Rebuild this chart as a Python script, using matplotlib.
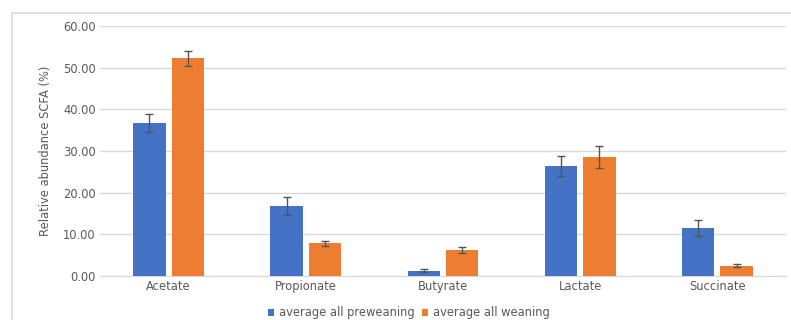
import matplotlib
matplotlib.use("Agg")
import matplotlib.pyplot as plt
from matplotlib.patches import Rectangle
import numpy as np

categories = ["Acetate", "Propionate", "Butyrate", "Lactate", "Succinate"]
preweaning = [36.7, 16.8, 1.3, 26.4, 11.5]
preweaning_err = [2.2, 2.1, 0.4, 2.5, 1.9]
weaning = [52.3, 7.9, 6.2, 28.6, 2.5]
weaning_err = [1.8, 0.6, 0.7, 2.6, 0.4]

blue = "#4472C4"
orange = "#ED7D31"
txt = "#595959"

fig = plt.figure(figsize=(7.91, 3.2), dpi=100)
fig.patches.append(Rectangle((12 / 791, -0.1), 1.0, 1 - 13 / 320 + 0.1,
                             transform=fig.transFigure, fill=False,
                             edgecolor="#D9D9D9", linewidth=1.2))
ax = fig.add_axes([100 / 791, 1 - 276 / 320, 686 / 791, 250 / 320])

x = np.arange(len(categories))
w = 0.235
off = 0.14
ekw = dict(ecolor="#555555", elinewidth=1, capsize=3, capthick=1)
ax.bar(x - off, preweaning, w, yerr=preweaning_err, color=blue,
       label="average all preweaning", error_kw=ekw, zorder=3)
ax.bar(x + off, weaning, w, yerr=weaning_err, color=orange,
       label="average all weaning", error_kw=ekw, zorder=3)

ax.set_xlim(-0.5, len(categories) - 0.5)
ax.set_ylim(0, 60)
ax.set_yticks(np.arange(0, 61, 10))
ax.set_yticklabels([f"{v:.2f}" for v in np.arange(0, 61, 10)])
ax.set_xticks(x)
ax.set_xticklabels(categories)
ax.grid(axis="y", color="#D9D9D9", linewidth=1, zorder=0)
for s in ["top", "right", "left"]:
    ax.spines[s].set_visible(False)
ax.spines["bottom"].set_color("#D9D9D9")
ax.tick_params(axis="both", length=0, colors=txt, labelsize=8.3)
ax.tick_params(axis="y", pad=3)
ax.tick_params(axis="x", pad=3)
ax.set_ylabel("Relative abundance SCFA (%)", color=txt, fontsize=8.3,
              labelpad=8)

ax.legend(loc="lower center", bbox_to_anchor=(0.45, -0.182), ncol=2,
          frameon=False, fontsize=8.3, labelcolor=txt, handlelength=0.55,
          handleheight=0.55, handletextpad=0.4, columnspacing=0.6,
          borderaxespad=0, borderpad=0.2)

fig.savefig("out.png", dpi=100, facecolor="white")
